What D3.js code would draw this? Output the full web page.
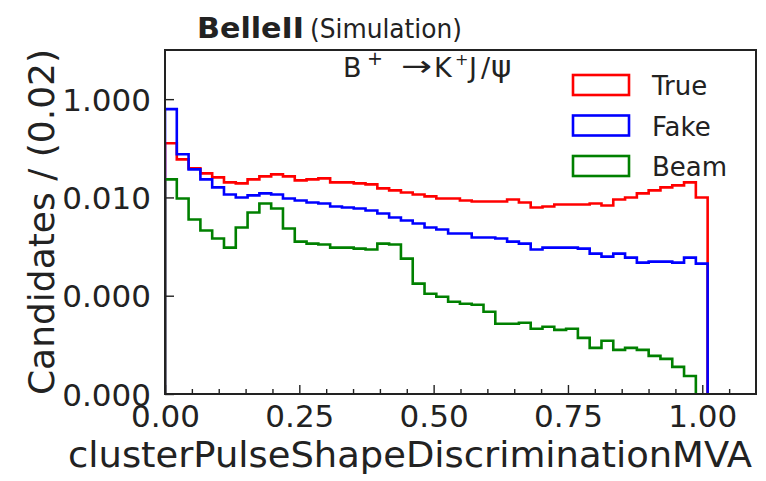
<!DOCTYPE html>
<html><head><meta charset="utf-8">
<script src="https://cdn.jsdelivr.net/npm/d3@7"></script>
<style>
html,body{margin:0;padding:0;background:#fff;}
text{font-family:"DejaVu Sans",sans-serif;fill:#222;}
</style></head>
<body><svg id="c" width="766" height="481"></svg>
<script>
// ---- data ----
const binRange = [0, 1.01];
const nBins = 46;
const trueVals = [0.1265,0.0596,0.0391,0.0309,0.0256,0.0202,0.0193,0.0233,0.0268,0.0294,0.0268,0.0222,0.0233,0.0244,0.0202,0.0202,0.0193,0.0184,0.0153,0.0139,0.0126,0.0115,0.0105,0.00954,0.00954,0.00869,0.00828,0.00828,0.00828,0.00910,0.00791,0.00625,0.00655,0.00720,0.00720,0.00720,0.00755,0.00687,0.00910,0.0100,0.0121,0.0139,0.0160,0.0176,0.0202,0.0100];
const fakeVals = [0.625,0.0755,0.0373,0.0233,0.0160,0.0115,0.0100,0.0110,0.0121,0.0115,0.00954,0.00869,0.00791,0.00755,0.00655,0.00625,0.00597,0.00543,0.00471,0.00391,0.00340,0.00295,0.00244,0.00222,0.00184,0.00184,0.00153,0.00153,0.00146,0.00126,0.00115,0.000869,0.000954,0.000954,0.000954,0.000910,0.000720,0.000625,0.000720,0.000597,0.000471,0.000494,0.000494,0.000471,0.000597,0.000450];
const beamVals = [0.0233,0.00954,0.00356,0.00212,0.00146,0.000954,0.00244,0.00494,0.00755,0.00597,0.00233,0.00126,0.00115,0.00110,0.000954,0.000954,0.000910,0.000869,0.00115,0.00110,0.000569,0.000176,0.000110,0.0000954,0.0000755,0.0000687,0.0000655,0.0000471,0.0000268,0.0000268,0.0000281,0.0000212,0.0000233,0.0000202,0.0000212,0.0000139,0.00000869,0.0000121,0.00000791,0.00000869,0.00000791,0.00000597,0.00000518,0.00000356,0.00000233,0];
const seriesNames = ["True","Fake","Beam"];
const seriesColors = ["#ff0000","#0000ff","#008000"];
const xTicks = [0,0.25,0.5,0.75,1.0];
const xTickLabels = ["0.00","0.25","0.50","0.75","1.00"];
const xMinorTicks = [0.05,0.1,0.15,0.2,0.3,0.35,0.4,0.45,0.55,0.6,0.65,0.7,0.8,0.85,0.9,0.95,1.05];
const yTicks = [1,1e-2,1e-4,1e-6];
const yTickLabels = ["1.000","0.010","0.000","0.000"];
const titleBold = "BelleII", titleRest = "(Simulation)";
const xLabel = "clusterPulseShapeDiscriminationMVA";
const yLabel = "Candidates / (0.02)";

// ---- layout ----
const L=165,R=756,T=50,B=394;
const svg=d3.select("#c");
const x=d3.scaleLinear().domain([0,1.1]).range([L,R]);
const y=d3.scaleLog().domain([1e-6,10]).range([B,T]);
const edges=d3.range(nBins+1).map(i=>binRange[0]+(binRange[1]-binRange[0])*i/nBins);

svg.append("clipPath").attr("id","clip").append("rect").attr("x",L).attr("y",T).attr("width",R-L).attr("height",B-T);

function stepPts(vals){
  const yy=v=>v>0?y(v):B+20;
  const pts=[[x(edges[0]),B+20]];
  vals.forEach((v,i)=>{pts.push([x(edges[i]),yy(v)]);pts.push([x(edges[i+1]),yy(v)]);});
  pts.push([x(edges[nBins]),B+20]);
  return pts;
}
const line=d3.line();
[trueVals,fakeVals,beamVals].forEach((vals,k)=>{
  svg.append("path").attr("clip-path","url(#clip)").attr("d",line(stepPts(vals)))
    .attr("fill","none").attr("stroke",seriesColors[k]).attr("stroke-width",2.6).attr("stroke-linejoin","miter");
});

// axes
const xAx=svg.append("g").attr("transform",`translate(0,${B})`)
  .call(d3.axisBottom(x).tickValues(xTicks).tickFormat((d,i)=>xTickLabels[i]).tickSize(-9).tickPadding(4));
const xAxMinor=svg.append("g").attr("transform",`translate(0,${B})`)
  .call(d3.axisBottom(x).tickValues(xMinorTicks).tickFormat("").tickSize(-5));
const yAx=svg.append("g").attr("transform",`translate(${L},0)`)
  .call(d3.axisLeft(y).tickValues(yTicks).tickFormat((d,i)=>yTickLabels[i]).tickSize(-9).tickPadding(14));
[xAx,xAxMinor,yAx].forEach(g=>{g.select(".domain").remove();g.selectAll("line").attr("stroke","#222").attr("stroke-width",1.4);});
xAx.selectAll("text").attr("font-size",31).attr("fill","#222").attr("font-family","DejaVu Sans").attr("dy","0.95em");
yAx.selectAll("text").attr("font-size",31).attr("fill","#222").attr("font-family","DejaVu Sans").attr("dy","0.36em");

svg.append("rect").attr("x",L).attr("y",T).attr("width",R-L).attr("height",B-T)
  .attr("fill","none").attr("stroke","#222").attr("stroke-width",2);

// labels
svg.append("text").attr("x",410).attr("y",467).attr("text-anchor","middle").attr("font-size",36)
  .attr("textLength",684).attr("lengthAdjust","spacingAndGlyphs").text(xLabel);
svg.append("text").attr("transform","translate(54,222) rotate(-90)").attr("text-anchor","middle").attr("font-size",36).text(yLabel);
svg.append("text").attr("x",197).attr("y",38).attr("font-size",28).attr("font-weight","bold")
  .attr("textLength",107).attr("lengthAdjust","spacingAndGlyphs").text(titleBold);
svg.append("text").attr("x",310).attr("y",38).attr("font-size",26)
  .attr("textLength",152).attr("lengthAdjust","spacingAndGlyphs").text(titleRest);

// decay label
const dk=svg.append("g");
dk.append("text").attr("x",343).attr("y",77).attr("font-size",27).text("B");
dk.append("text").attr("x",367).attr("y",65).attr("font-size",19).text("+");
dk.append("text").attr("x",401).attr("y",76).attr("font-size",29).attr("textLength",31).attr("lengthAdjust","spacingAndGlyphs").text("\u2192");
dk.append("text").attr("x",434).attr("y",77).attr("font-size",27).text("K");
dk.append("text").attr("x",455).attr("y",65).attr("font-size",16).text("+");
dk.append("text").attr("x",469).attr("y",77).attr("font-size",27).attr("textLength",21).attr("lengthAdjust","spacing").text("J/");
dk.append("text").attr("x",491).attr("y",77).attr("font-size",31).text("\u03c8");

// legend
seriesNames.forEach((n,i)=>{
  const yy=75+i*40.5;
  svg.append("rect").attr("x",573).attr("y",yy).attr("width",56).attr("height",20)
    .attr("fill","none").attr("stroke",seriesColors[i]).attr("stroke-width",2.6);
  svg.append("text").attr("x",652).attr("y",yy+20).attr("font-size",26).text(n);
});
</script></body></html>
